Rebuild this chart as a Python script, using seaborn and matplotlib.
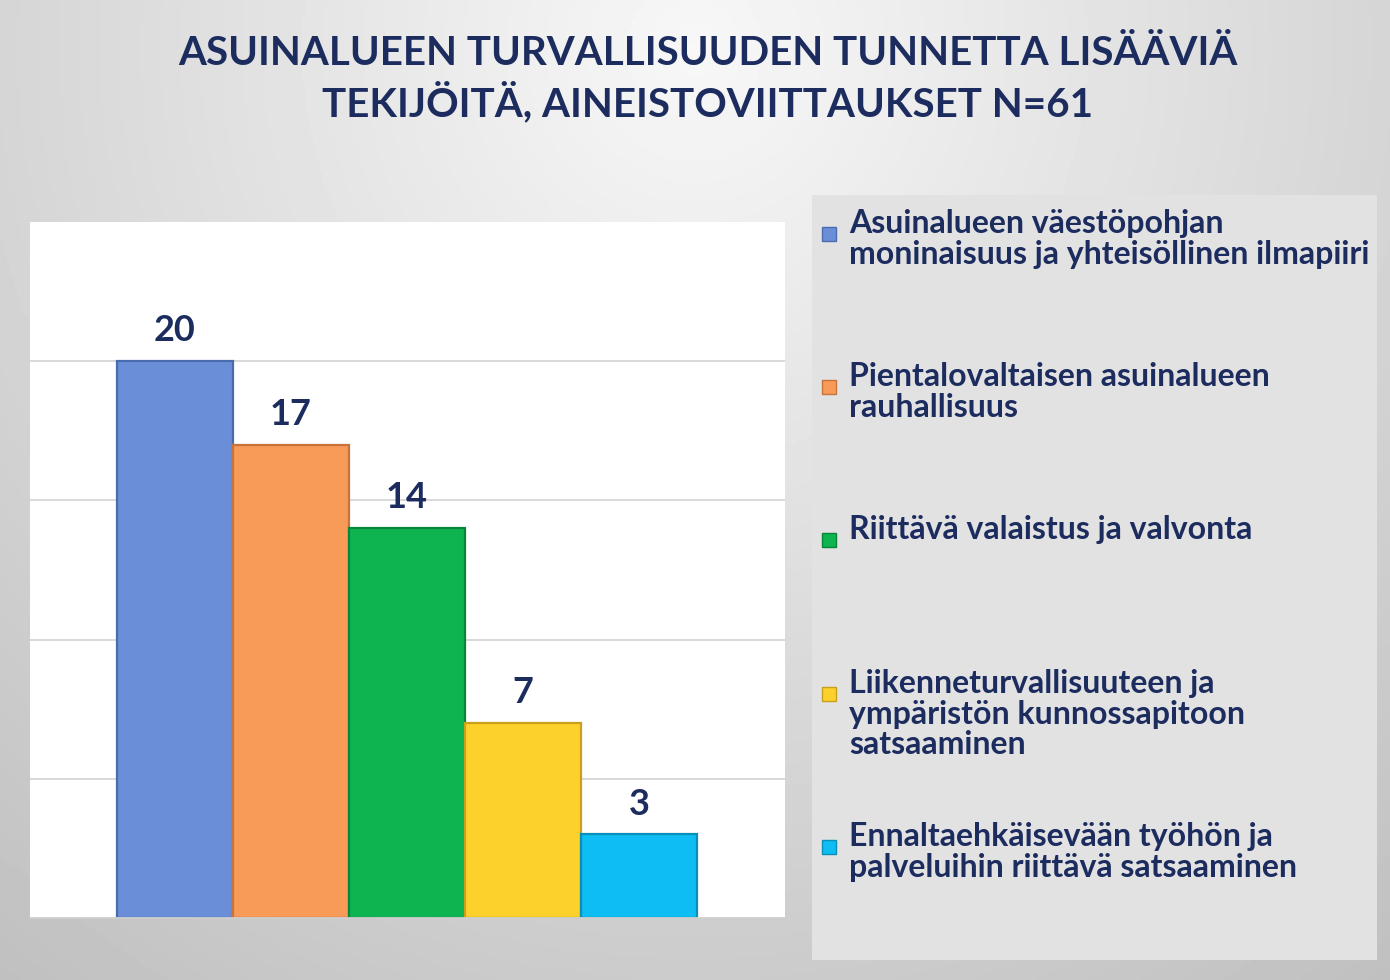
import matplotlib
matplotlib.use("Agg")
import matplotlib.pyplot as plt
import numpy as np
import pandas as pd
import seaborn as sns
from matplotlib.patches import Rectangle

# chart data
title = "ASUINALUEEN TURVALLISUUDEN TUNNETTA LISÄÄVIÄ\nTEKIJÖITÄ, AINEISTOVIITTAUKSET N=61"
categories = [
    "Asuinalueen väestöpohjan moninaisuus ja yhteisöllinen ilmapiiri",
    "Pientalovaltaisen asuinalueen rauhallisuus",
    "Riittävä valaistus ja valvonta",
    "Liikenneturvallisuuteen ja ympäristön kunnossapitoon satsaaminen",
    "Ennaltaehkäisevään työhön ja palveluihin riittävä satsaaminen",
]
legend_labels = [
    "Asuinalueen väestöpohjan\nmoninaisuus ja yhteisöllinen ilmapiiri",
    "Pientalovaltaisen asuinalueen\nrauhallisuus",
    "Riittävä valaistus ja valvonta",
    "Liikenneturvallisuuteen ja\nympäristön kunnossapitoon\nsatsaaminen",
    "Ennaltaehkäisevään työhön ja\npalveluihin riittävä satsaaminen",
]
values = [20, 17, 14, 7, 3]
colors = ["#6a8fd8", "#f89a58", "#0db450", "#fdd12c", "#0dbdf3"]
edge_colors = ["#4a6cae", "#c8733a", "#07853a", "#c9a01a", "#0a8fb8"]
grid_ticks = [5, 10, 15, 20]

NAVY = "#1c2c5e"

sns.set_theme(style="white")
plt.rcParams["font.family"] = ["Lato", "DejaVu Sans"]

W, H = 1390, 980
fig = plt.figure(figsize=(W / 100, H / 100), dpi=100)


def fx(px):
    return px / W


def fy(py):
    return 1 - py / H


# grey slide background, lighter near the top centre
bg = fig.add_axes([0, 0, 1, 1], zorder=-10)
gx, gy = np.meshgrid(np.linspace(0, 1, 400), np.linspace(0, 1, 300))
shade = 0.97 - 0.2 * np.sqrt(((gx - 0.5) / 0.75) ** 2 + ((gy - 0.05) / 1.1) ** 2)
bg.imshow(shade, cmap="gray", vmin=0, vmax=1, aspect="auto", extent=[0, 1, 0, 1])
bg.axis("off")

# legend panel
fig.patches.append(Rectangle((fx(812), fy(960)), fx(565), 765 / H,
                             transform=fig.transFigure, facecolor="#e2e2e2",
                             edgecolor="none", zorder=-5))

# plot area
ax = fig.add_axes([fx(30), fy(918), fx(755), 696 / H])
ax.set_facecolor("white")
df = pd.DataFrame({"category": categories, "value": values})
sns.barplot(data=df, x="category", y="value", hue="category", palette=colors,
            saturation=1, width=1.0, legend=False, ax=ax)
for patch, ec in zip(ax.patches, edge_colors):
    patch.set_edgecolor(ec)
    patch.set_linewidth(1.6)

for cont in ax.containers:
    ax.bar_label(cont, fmt="%d", padding=10, fontsize=26, fontweight="bold", color=NAVY)

ax.set_xlim(-1.25, 5.26)
ax.set_ylim(0, 25)
ax.set_yticks(grid_ticks)
ax.set_xticks([])
ax.yaxis.grid(True, color="#d6d6d6", linewidth=1.3)
ax.set_axisbelow(True)
ax.tick_params(length=0, labelleft=False)
ax.set_xlabel("")
ax.set_ylabel("")
for side in ["top", "left", "right"]:
    ax.spines[side].set_visible(False)
ax.spines["bottom"].set_color("#cfcfcf")
ax.spines["bottom"].set_linewidth(1.3)

# title
fig.text(fx(708), fy(79), title, ha="center", va="center", fontsize=29,
         fontweight="bold", color=NAVY, linespacing=1.27)

# legend entries
entry_tops = [209, 362, 515, 669, 822]
for label, col, ec, top in zip(legend_labels, colors, edge_colors, entry_tops):
    fig.patches.append(Rectangle((fx(822), fy(top + 32)), fx(14), 14 / H,
                                 transform=fig.transFigure, facecolor=col,
                                 edgecolor=ec, linewidth=1))
    fig.text(fx(849), fy(top), label, ha="left", va="top", fontsize=23,
             fontweight="bold", color=NAVY, linespacing=1.07)

fig.savefig("out.png", dpi=100)
